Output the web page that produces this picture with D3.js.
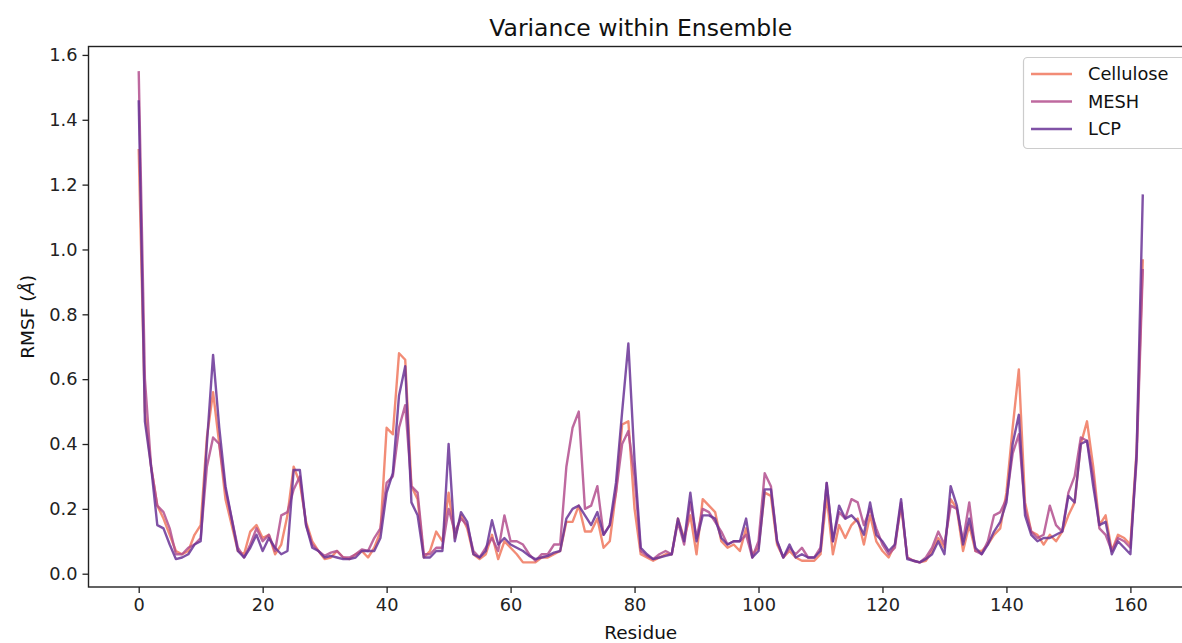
<!DOCTYPE html>
<html>
<head>
<meta charset="utf-8">
<script src="https://cdn.jsdelivr.net/npm/d3@7.9.0/dist/d3.min.js"></script>
<style>
  body { margin: 0; background: #fff; }
  svg { font-family: "DejaVu Sans", sans-serif; }
</style>
</head>
<body>
<svg id="chart" width="1182" height="643"></svg>
<script>
// RMSF per residue (0..162)
const cellulose = [1.31,0.50,0.33,0.21,0.17,0.12,0.07,0.06,0.07,0.12,
  0.15,0.42,0.56,0.40,0.23,0.15,0.07,0.06,0.13,0.15,
  0.11,0.12,0.06,0.09,0.18,0.33,0.28,0.16,0.10,0.07,
  0.045,0.05,0.07,0.05,0.045,0.06,0.07,0.05,0.08,0.13,
  0.45,0.43,0.68,0.66,0.27,0.23,0.05,0.07,0.13,0.10,
  0.25,0.11,0.18,0.14,0.06,0.045,0.06,0.12,0.045,0.10,
  0.08,0.06,0.035,0.035,0.035,0.05,0.05,0.06,0.07,0.16,
  0.16,0.21,0.13,0.13,0.17,0.08,0.10,0.25,0.46,0.47,
  0.20,0.06,0.05,0.04,0.05,0.06,0.06,0.17,0.11,0.18,
  0.06,0.23,0.21,0.19,0.10,0.08,0.09,0.07,0.14,0.06,
  0.08,0.25,0.24,0.09,0.05,0.07,0.05,0.04,0.04,0.04,
  0.06,0.24,0.06,0.15,0.11,0.15,0.17,0.09,0.18,0.10,
  0.07,0.05,0.09,0.21,0.05,0.04,0.035,0.04,0.07,0.11,
  0.08,0.23,0.20,0.07,0.15,0.07,0.07,0.09,0.12,0.14,
  0.25,0.45,0.63,0.22,0.13,0.12,0.09,0.12,0.10,0.13,
  0.18,0.22,0.40,0.47,0.33,0.15,0.18,0.07,0.12,0.11,
  0.09,0.38,0.97];
const mesh = [1.55,0.60,0.33,0.21,0.19,0.14,0.06,0.06,0.08,0.09,
  0.11,0.33,0.42,0.40,0.26,0.17,0.08,0.05,0.09,0.14,
  0.10,0.12,0.07,0.18,0.19,0.26,0.30,0.15,0.09,0.07,
  0.055,0.065,0.07,0.05,0.05,0.06,0.075,0.07,0.11,0.14,
  0.28,0.30,0.45,0.52,0.27,0.25,0.06,0.06,0.08,0.08,
  0.20,0.13,0.17,0.15,0.07,0.05,0.08,0.11,0.07,0.18,
  0.10,0.10,0.09,0.06,0.04,0.06,0.06,0.09,0.09,0.33,
  0.45,0.50,0.20,0.21,0.27,0.12,0.15,0.25,0.40,0.44,
  0.30,0.07,0.055,0.045,0.06,0.07,0.06,0.16,0.09,0.22,
  0.11,0.20,0.19,0.16,0.13,0.09,0.10,0.10,0.12,0.05,
  0.10,0.31,0.27,0.10,0.05,0.08,0.06,0.08,0.05,0.05,
  0.08,0.28,0.10,0.19,0.17,0.23,0.22,0.15,0.20,0.14,
  0.09,0.06,0.08,0.22,0.05,0.04,0.035,0.05,0.08,0.13,
  0.09,0.21,0.20,0.10,0.22,0.07,0.06,0.10,0.18,0.19,
  0.23,0.37,0.43,0.20,0.13,0.11,0.12,0.21,0.15,0.13,
  0.25,0.30,0.42,0.41,0.30,0.14,0.12,0.07,0.11,0.10,
  0.08,0.35,0.94];
const lcp = [1.46,0.47,0.33,0.15,0.14,0.09,0.045,0.05,0.06,0.09,
  0.10,0.40,0.675,0.45,0.27,0.17,0.07,0.05,0.08,0.12,
  0.07,0.11,0.08,0.06,0.07,0.32,0.32,0.15,0.08,0.07,
  0.05,0.055,0.05,0.045,0.045,0.05,0.07,0.07,0.07,0.11,
  0.25,0.31,0.55,0.64,0.22,0.18,0.05,0.05,0.07,0.07,
  0.40,0.10,0.19,0.16,0.06,0.05,0.07,0.165,0.09,0.11,
  0.09,0.08,0.07,0.055,0.045,0.05,0.055,0.065,0.07,0.17,
  0.20,0.21,0.18,0.15,0.19,0.12,0.15,0.28,0.50,0.71,
  0.35,0.08,0.06,0.045,0.05,0.055,0.06,0.17,0.10,0.25,
  0.10,0.18,0.18,0.17,0.11,0.09,0.10,0.10,0.17,0.05,
  0.07,0.26,0.26,0.10,0.05,0.09,0.05,0.06,0.05,0.05,
  0.07,0.28,0.10,0.21,0.17,0.18,0.16,0.12,0.22,0.12,
  0.10,0.07,0.09,0.23,0.045,0.04,0.035,0.045,0.06,0.10,
  0.06,0.27,0.21,0.09,0.17,0.08,0.06,0.09,0.13,0.16,
  0.22,0.40,0.49,0.18,0.12,0.10,0.11,0.11,0.12,0.13,
  0.24,0.22,0.40,0.41,0.27,0.15,0.16,0.06,0.10,0.08,
  0.06,0.37,1.17];

const seriesNames = ["Cellulose", "MESH", "LCP"];
const seriesColors = ["#f0785e", "#b34f8e", "#6a3496"];
const xTicks = [0, 20, 40, 60, 80, 100, 120, 140, 160];
const yTicks = [0.0, 0.2, 0.4, 0.6, 0.8, 1.0, 1.2, 1.4, 1.6];

const svg = d3.select("#chart");
const mLeft = 88.5, mRight = 1193, mTop = 46.5, mBottom = 587;

const x = d3.scaleLinear().domain([-8.1, 170.1]).range([mLeft, mRight]);
const y = d3.scaleLinear().domain([-0.041, 1.626]).range([mBottom, mTop]);

// lines
const line = d3.line().x((d, i) => x(i)).y(d => y(d));
const allSeries = [cellulose, mesh, lcp];
const plot = svg.append("g");
allSeries.forEach((s, k) => {
  plot.append("path")
    .datum(s)
    .attr("d", line)
    .attr("fill", "none")
    .attr("stroke", seriesColors[k])
    .attr("stroke-opacity", 0.85)
    .attr("stroke-width", 2.4)
    .attr("stroke-linejoin", "round");
});

// axes
const xAxis = svg.append("g")
  .attr("transform", `translate(0,${mBottom})`)
  .call(d3.axisBottom(x).tickValues(xTicks).tickFormat(d3.format("d")).tickSize(6).tickPadding(5));
const yAxis = svg.append("g")
  .attr("transform", `translate(${mLeft},0)`)
  .call(d3.axisLeft(y).tickValues(yTicks).tickFormat(d3.format(".1f")).tickSize(6).tickPadding(5));

[xAxis, yAxis].forEach(g => {
  g.select(".domain").remove();
  g.selectAll("line").attr("stroke", "#222").attr("stroke-width", 1.3);
  g.selectAll("text").attr("font-size", 17.8).attr("fill", "#222")
    .attr("font-family", "DejaVu Sans, sans-serif");
});

// spines
svg.append("rect")
  .attr("x", mLeft).attr("y", mTop)
  .attr("width", mRight - mLeft).attr("height", mBottom - mTop)
  .attr("fill", "none").attr("stroke", "#222").attr("stroke-width", 1.4);

// title and labels
svg.append("text")
  .attr("x", (mLeft + mRight) / 2).attr("y", 36)
  .attr("text-anchor", "middle")
  .attr("font-size", 23.5).attr("fill", "#111")
  .text("Variance within Ensemble");

svg.append("text")
  .attr("x", (mLeft + mRight) / 2).attr("y", 639)
  .attr("text-anchor", "middle")
  .attr("font-size", 18.5).attr("fill", "#111")
  .text("Residue");

const yl = svg.append("text")
  .attr("transform", `translate(34,${(mTop + mBottom) / 2}) rotate(-90)`)
  .attr("text-anchor", "middle")
  .attr("font-size", 18.5).attr("fill", "#111");
yl.append("tspan").text("RMSF (");
yl.append("tspan").attr("font-style", "italic").text("Å");
yl.append("tspan").text(")");

// legend
const lg = svg.append("g");
lg.append("rect")
  .attr("x", 1023.5).attr("y", 57.5)
  .attr("width", 180).attr("height", 91)
  .attr("rx", 4)
  .attr("fill", "#fff").attr("fill-opacity", 0.8)
  .attr("stroke", "#ccc").attr("stroke-width", 1.2);
seriesNames.forEach((name, k) => {
  const yy = 74 + k * 27.5;
  lg.append("line")
    .attr("x1", 1031).attr("x2", 1072)
    .attr("y1", yy).attr("y2", yy)
    .attr("stroke", seriesColors[k]).attr("stroke-opacity", 0.85)
    .attr("stroke-width", 2.4);
  lg.append("text")
    .attr("x", 1088).attr("y", yy + 6)
    .attr("font-size", 17.8).attr("fill", "#111")
    .text(name);
});
</script>
</body>
</html>
